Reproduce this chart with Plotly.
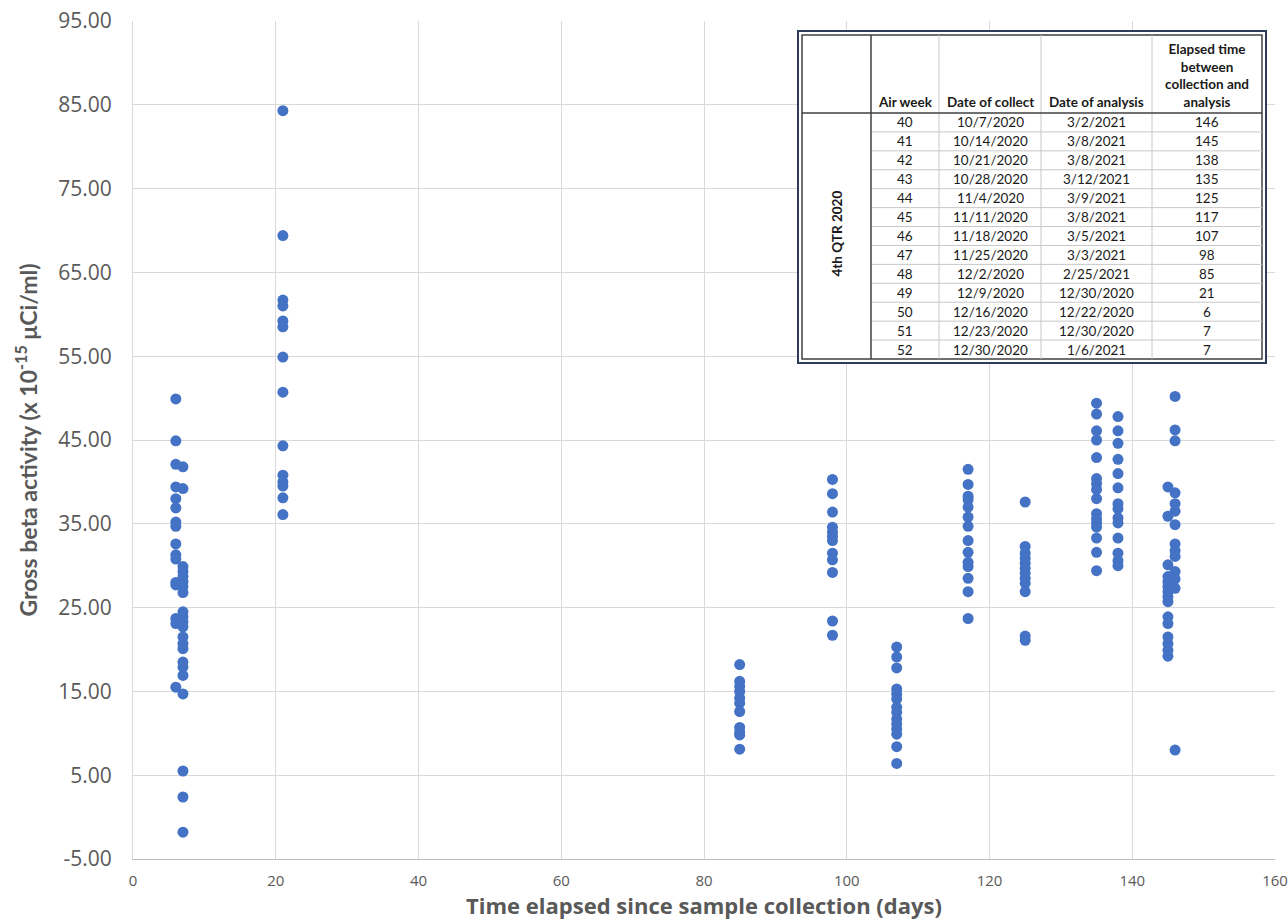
import plotly.graph_objects as go

# ---------------- data ----------------
elapsed_groups = [6, 7, 21, 85, 98, 107, 117, 125, 135, 138, 145, 146]

vals_6 = [49.9, 44.9, 42.1, 39.4, 38.0, 36.9, 35.2, 34.7, 32.6, 31.3, 30.8, 28.0, 27.7, 23.7, 23.1, 15.5]
vals_7 = [41.8, 39.2, 29.9, 29.3, 28.7, 28.1, 27.5, 26.8, 24.5, 23.9, 23.3, 22.7, 21.5, 20.7, 20.1,
          18.5, 17.9, 16.9, 14.7, 5.5, 2.4, -1.8]
vals_21 = [84.3, 69.4, 61.7, 61.0, 59.2, 58.5, 54.9, 50.7, 44.3, 40.8, 40.0, 39.5, 38.1, 36.1]
vals_85 = [18.2, 16.2, 15.6, 15.0, 14.2, 13.6, 12.6, 10.7, 10.1, 9.8, 8.1]
vals_98 = [40.3, 38.6, 36.4, 34.6, 34.0, 33.5, 33.0, 31.5, 30.7, 29.2, 23.4, 21.7]
vals_107 = [20.3, 19.1, 17.8, 15.3, 14.7, 14.1, 13.1, 12.5, 11.7, 11.1, 10.5, 9.9, 8.4, 6.4]
vals_117 = [41.5, 39.7, 38.3, 37.9, 37.0, 35.8, 34.7, 33.0, 31.6, 30.4, 29.9, 28.5, 26.9, 23.7]
vals_125 = [37.6, 32.3, 31.5, 30.9, 30.3, 29.7, 29.1, 28.5, 27.9, 26.9, 21.6, 21.1]
vals_135 = [49.4, 48.1, 46.1, 45.0, 42.9, 40.4, 39.8, 39.1, 38.0, 36.2, 35.6, 35.1, 34.6, 33.3, 31.6, 29.4]
vals_138 = [47.8, 46.1, 44.6, 42.7, 41.0, 39.3, 37.4, 36.8, 35.7, 35.1, 33.3, 31.5, 30.6, 30.0]
vals_145 = [39.4, 35.9, 30.1, 28.7, 28.1, 27.5, 26.9, 26.3, 25.7, 23.9, 23.1, 21.5, 20.7, 19.9, 19.2]
vals_146 = [50.2, 46.2, 44.9, 38.7, 37.4, 36.5, 34.9, 32.6, 31.8, 31.1, 29.3, 28.4, 27.3, 8.0]

group_values = [vals_6, vals_7, vals_21, vals_85, vals_98, vals_107, vals_117,
                vals_125, vals_135, vals_138, vals_145, vals_146]

y_ticks = [-5, 5, 15, 25, 35, 45, 55, 65, 75, 85, 95]
x_ticks = [0, 20, 40, 60, 80, 100, 120, 140, 160]

# table data
table_quarter = "4th QTR 2020"
table_headers = ["Air week", "Date of collect", "Date of analysis",
                 "Elapsed time<br>between<br>collection and<br>analysis"]
air_week = ["40", "41", "42", "43", "44", "45", "46", "47", "48", "49", "50", "51", "52"]
date_collect = ["10/7/2020", "10/14/2020", "10/21/2020", "10/28/2020", "11/4/2020", "11/11/2020",
                "11/18/2020", "11/25/2020", "12/2/2020", "12/9/2020", "12/16/2020", "12/23/2020",
                "12/30/2020"]
date_analysis = ["3/2/2021", "3/8/2021", "3/8/2021", "3/12/2021", "3/9/2021", "3/8/2021",
                 "3/5/2021", "3/3/2021", "2/25/2021", "12/30/2020", "12/22/2020", "12/30/2020",
                 "1/6/2021"]
elapsed_days = ["146", "145", "138", "135", "125", "117", "107", "98", "85", "21", "6", "7", "7"]

# ---------------- figure ----------------
xs, ys = [], []
for d, vals in zip(elapsed_groups, group_values):
    xs += [d] * len(vals)
    ys += vals

W, H = 1288, 921
ML, MR, MT, MB = 133, 13, 21, 62
PW, PH = W - ML - MR, H - MT - MB

def px(x):
    return (x - ML) / PW

def py(y):
    return (H - MB - y) / PH

fig = go.Figure()
fig.add_trace(go.Scatter(x=xs, y=ys, mode="markers",
                         marker=dict(size=11, color="#4472C4", line=dict(width=0)),
                         showlegend=False, hoverinfo="x+y"))

TICK = "#595959"
GRID = "#D9D9D9"

fig.update_layout(
    width=W, height=H,
    margin=dict(l=ML, r=MR, t=MT, b=MB, autoexpand=False),
    paper_bgcolor="white", plot_bgcolor="white",
    font=dict(family="Open Sans", color=TICK),
    xaxis=dict(range=[0, 160], tickvals=x_ticks, ticktext=[str(t) for t in x_ticks],
               showgrid=True, gridcolor=GRID, gridwidth=1, zeroline=False, automargin=False,
               showline=True, linecolor="#BFBFBF", linewidth=1,
               tickfont=dict(size=15, color=TICK), ticks="", ticklabelstandoff=8,
               title=dict(text="<b>Time elapsed since sample collection (days)</b>",
                          font=dict(family="Open Sans", size=22, color=TICK), standoff=6)),
    yaxis=dict(range=[-5, 95], tickvals=y_ticks, ticktext=[f"{t:.2f}" for t in y_ticks],
               showgrid=True, gridcolor=GRID, gridwidth=1, zeroline=False, automargin=False,
               showline=True, linecolor=GRID, linewidth=1,
               tickfont=dict(size=21, color=TICK), ticks="", ticklabelstandoff=16,
               title=dict(text="<b>Gross beta activity (x 10<sup>-15</sup> \u03bcCi/ml)</b>",
                          font=dict(family="Lato", size=23, color=TICK), standoff=14)),
)

# ---------------- table (drawn as shapes + annotations) ----------------
shapes = []
tl, tr, tt, tb = 798, 1266, 31, 363        # outer frame
il, ir, it, ib = 802, 1262, 35, 359        # inner frame
col_x = [871, 939, 1041, 1152]
head_b = 113
row_h = (ib - head_b) / len(air_week)

shapes.append(dict(type="rect", xref="paper", yref="paper", x0=px(tl), x1=px(tr), y0=py(tb), y1=py(tt),
                   fillcolor="white", line=dict(color="#2F3B5C", width=2), layer="above"))
shapes.append(dict(type="rect", xref="paper", yref="paper", x0=px(il), x1=px(ir), y0=py(ib), y1=py(it),
                   fillcolor="white", line=dict(color="#404040", width=1.5), layer="above"))
for cx in col_x[1:]:
    shapes.append(dict(type="line", xref="paper", yref="paper", x0=px(cx), x1=px(cx), y0=py(ib), y1=py(it),
                       line=dict(color="#C8C8C8", width=1), layer="above"))
for i in range(1, len(air_week)):
    yy = head_b + i * row_h
    shapes.append(dict(type="line", xref="paper", yref="paper", x0=px(col_x[0]), x1=px(ir), y0=py(yy), y1=py(yy),
                       line=dict(color="#C8C8C8", width=1), layer="above"))
shapes.append(dict(type="line", xref="paper", yref="paper", x0=px(il), x1=px(ir), y0=py(head_b), y1=py(head_b),
                   line=dict(color="#404040", width=1.5), layer="above"))
shapes.append(dict(type="line", xref="paper", yref="paper", x0=px(col_x[0]), x1=px(col_x[0]), y0=py(ib), y1=py(it),
                   line=dict(color="#404040", width=1.5), layer="above"))
fig.update_layout(shapes=shapes)

col_edges = col_x + [ir]
centers = [(col_edges[k] + col_edges[k + 1]) / 2 for k in range(4)]
TF = "Lato"
for k, h in enumerate(table_headers):
    fig.add_annotation(x=px(centers[k]), y=py(head_b - 1), xref="paper", yref="paper",
                       text=f"<b>{h}</b>", showarrow=False, xanchor="center", yanchor="bottom",
                       font=dict(family=TF, size=13.5, color="#1a1a1a"))

columns = [air_week, date_collect, date_analysis, elapsed_days]
for r in range(len(air_week)):
    yc = head_b + (r + 0.5) * row_h
    for k, col in enumerate(columns):
        fig.add_annotation(x=px(centers[k]), y=py(yc), xref="paper", yref="paper",
                           text=col[r], showarrow=False, xanchor="center", yanchor="middle",
                           font=dict(family=TF, size=13.5, color="#1a1a1a"))

fig.add_annotation(x=px((il + col_x[0]) / 2), y=py((head_b + ib) / 2 - 2), xref="paper", yref="paper",
                   text=f"<b>{table_quarter}</b>", textangle=-90, showarrow=False,
                   xanchor="center", yanchor="middle", font=dict(family=TF, size=13.5, color="#1a1a1a"))

fig.write_html("out.html")
